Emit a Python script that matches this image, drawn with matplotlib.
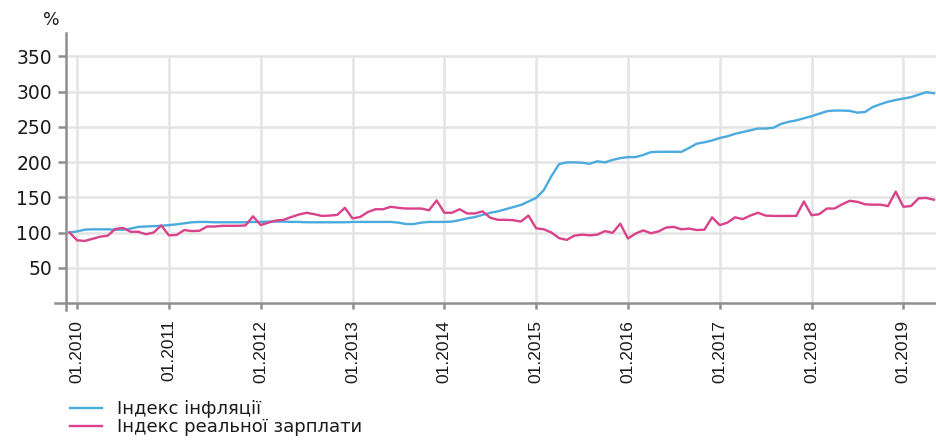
import numpy as np
import matplotlib
matplotlib.use("Agg")
from matplotlib import pyplot as plt
from matplotlib.lines import Line2D

# monthly index, 12.2009 = 100 (month 0 = 01.2010)
months = np.arange(-1, 113)

inflation = [
    100,
    101.5, 104, 104.5, 104.5, 104.5, 104, 104, 105.5, 108, 108.5, 109, 109.5,
    110.5, 111.5, 113, 114.5, 115, 115, 114.5, 114.5, 114.5, 114.5, 114.5, 115,
    115, 115.5, 115.5, 115.5, 115, 115, 114.5, 114.5, 114.5, 114.5, 114.5, 114.5,
    115, 115, 115, 115, 115, 115, 114, 112, 112, 114, 115, 115,
    115, 115.5, 117.5, 120, 122, 125, 128, 130, 133, 136, 139, 144,
    149, 160, 180, 197, 199.5, 199.5, 199, 197.5, 201, 199.5, 203, 205.5,
    207, 207, 210, 214, 214.5, 214.5, 214.5, 214.5, 220, 226, 228, 230.5,
    234, 236.5, 240, 242.5, 245, 247.5, 247.5, 248.5, 254, 257, 259, 262,
    265, 268.5, 272, 273, 273, 272.5, 270, 271, 278, 282, 285.5, 288,
    290, 292, 295.5, 299, 297.5,
]

wages = [
    100,
    89, 88, 91, 94, 95.5, 105, 106.5, 101, 101, 97.5, 100, 110,
    96, 96.5, 103.5, 102, 102.5, 108.5, 108.5, 109.5, 109.5, 109.5, 110, 123,
    110.5, 114, 117, 118, 122, 125.5, 128, 126, 123.5, 124, 125, 135,
    120, 122, 129, 133, 133, 136.5, 135, 134, 134, 134, 131.5, 145.5,
    128, 128, 133, 127, 127, 130, 121, 118, 118, 117.5, 115.5, 124,
    106, 104.5, 100, 92, 89.5, 95.5, 97, 96, 97, 102, 99.5, 112.5,
    91.5, 98.5, 103, 99, 101.5, 107, 108, 104.5, 105.5, 103.5, 104, 121.5,
    110.5, 114, 121.5, 119, 124, 128, 124, 123.5, 123.5, 123.5, 123.5, 144,
    124.5, 126, 134, 134, 140, 145, 143.5, 140, 139.5, 139.5, 137.5, 158,
    136.5, 137.5, 148.5, 149, 146.5,
]

years = list(range(2010, 2020))
year_ticks = [(y - 2010) * 12 for y in years]
year_labels = ["01.%d" % y for y in years]
y_ticks = [50, 100, 150, 200, 250, 300, 350]
series_names = ["Індекс інфляції", "Індекс реальної зарплати"]

blue = "#4aabdc"
pink = "#d9428b"
grid_c = "#e4e4e4"
axis_c = "#8e8e8e"
text_c = "#1a1a1a"

plt.rcParams['font.family'] = ['DejaVu Sans']

fig = plt.figure(figsize=(9.37, 4.41), dpi=100)
ax = fig.add_axes([66 / 937, 1 - 303 / 441, 871 / 937, 270 / 441])

ax.set_xlim(-1.45, 112.4)
ax.set_ylim(0, 383)

# grid: horizontal full width, vertical only up to 350
ax.set_yticks(y_ticks)
ax.yaxis.grid(True, color=grid_c, lw=1.8, zorder=0)
ax.vlines(year_ticks, 0, 350, color=grid_c, lw=1.8, zorder=0)

ax.plot(months, inflation, color=blue, lw=1.7, zorder=3, label=series_names[0])
ax.plot(months, wages, color=pink, lw=1.7, zorder=3, label=series_names[1])

for s in ax.spines.values():
    s.set_visible(False)
# axis lines, slightly overshooting like the original
ax.add_line(Line2D([-0.0126, 1], [0, 0], transform=ax.transAxes, color=axis_c,
                   lw=1.8, clip_on=False, zorder=4))
ax.add_line(Line2D([0, 0], [-0.026, 1], transform=ax.transAxes, color=axis_c,
                   lw=1.8, clip_on=False, zorder=4))

ax.set_xticks(year_ticks)
ax.set_xticklabels(year_labels, rotation=90, family='Liberation Sans',
                   fontsize=12.5, color=text_c)
ax.tick_params(axis='x', length=4, width=1.8, color=axis_c, pad=8)
ax.tick_params(axis='y', length=6, width=1.8, color=axis_c, pad=4,
               labelsize=13.5, labelcolor=text_c)

fig.text(51 / 937, 1 - 20 / 441, "%", ha='center', va='center',
         fontsize=12.5, color=text_c)

ax.legend(loc='upper left', bbox_to_anchor=(70 / 937, 1 - 400 / 441),
          bbox_transform=fig.transFigure, frameon=False, fontsize=13,
          handlelength=1.8, handletextpad=0.8, labelspacing=0.0,
          borderpad=0, borderaxespad=0, labelcolor=text_c)

fig.savefig("out.png", dpi=100)
